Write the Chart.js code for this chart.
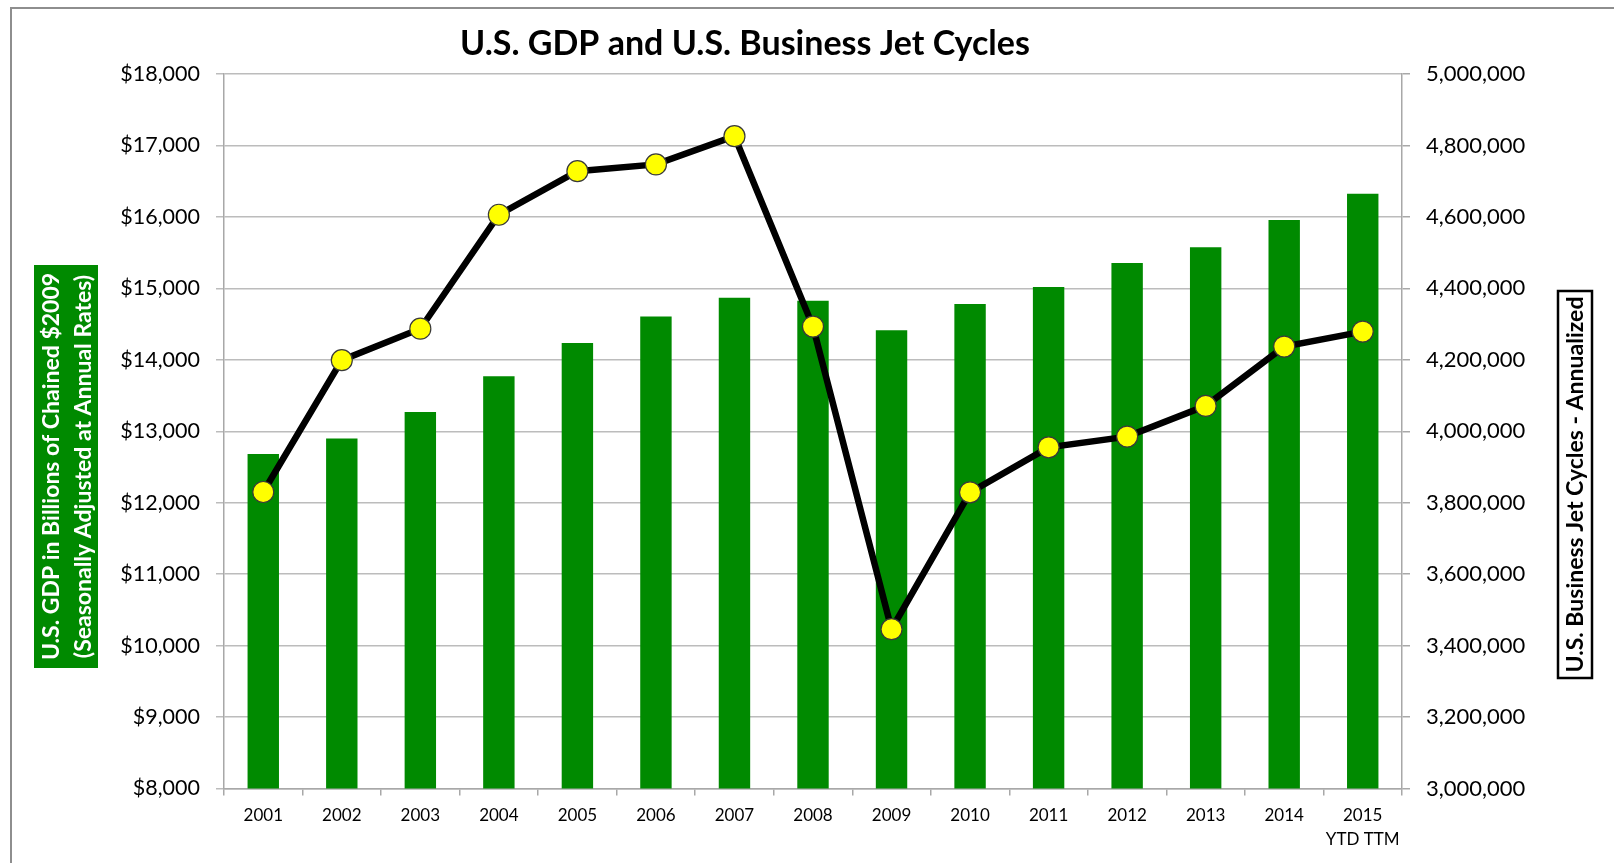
<!DOCTYPE html>
<html>
<head>
<meta charset="utf-8">
<script src="https://cdn.jsdelivr.net/npm/chart.js@4/dist/chart.umd.min.js"></script>
<style>
  html, body { margin: 0; padding: 0; background: #ffffff; }
  #wrap { width: 1614px; height: 863px; position: relative; }
</style>
</head>
<body>
<div id="wrap"><canvas id="c" width="1614" height="863"></canvas></div>
<script>
const years = ['2001','2002','2003','2004','2005','2006','2007','2008','2009','2010','2011','2012','2013','2014',['2015','YTD TTM']];
const gdpBillions = [12680, 12900, 13270, 13770, 14235, 14605, 14870, 14825, 14415, 14780, 15020, 15355, 15575, 15957, 16325];
const jetCycles = [3830000, 4199000, 4287000, 4606000, 4728000, 4747000, 4826000, 4293000, 3446000, 3829000, 3955000, 3985000, 4071000, 4237000, 4279000];
const chartTitle = 'U.S. GDP and U.S. Business Jet Cycles';
const leftTitle = ['U.S. GDP in Billions of Chained $2009', '(Seasonally Adjusted at Annual Rates)'];
const rightTitle = 'U.S. Business Jet Cycles - Annualized';

const FONT = 'Lato, "Open Sans", sans-serif';
const gridColor = '#bcbcbc';
const axisColor = '#a8a8a8';

const decor = {
  id: 'decor',
  afterDraw(chart) {
    const ctx = chart.ctx;
    ctx.save();
    // outer frame
    ctx.strokeStyle = '#8e8e8e';
    ctx.lineWidth = 2;
    ctx.beginPath();
    ctx.moveTo(11, 863);
    ctx.lineTo(11, 8);
    ctx.lineTo(1614, 8);
    ctx.stroke();
    // title
    ctx.fillStyle = '#000';
    ctx.font = 'bold 34px ' + FONT;
    ctx.textAlign = 'center';
    ctx.textBaseline = 'middle';
    ctx.fillText(chartTitle, 745, 44);
    // left axis title box
    ctx.fillStyle = '#008a00';
    ctx.fillRect(34, 265, 64, 403);
    ctx.save();
    ctx.translate(66, 466.5);
    ctx.rotate(-Math.PI / 2);
    ctx.fillStyle = '#ffffff';
    ctx.font = 'bold 23px ' + FONT;
    ctx.textAlign = 'center';
    ctx.textBaseline = 'middle';
    ctx.fillText(leftTitle[0], 0, -14);
    ctx.fillText(leftTitle[1], 0, 18);
    ctx.restore();
    // right axis title box
    ctx.fillStyle = '#ffffff';
    ctx.fillRect(1558, 291, 34, 387);
    ctx.strokeStyle = '#000';
    ctx.lineWidth = 2.5;
    ctx.strokeRect(1558, 291, 34, 387);
    ctx.save();
    ctx.translate(1575, 484.5);
    ctx.rotate(-Math.PI / 2);
    ctx.fillStyle = '#000';
    ctx.font = 'bold 23px ' + FONT;
    ctx.textAlign = 'center';
    ctx.textBaseline = 'middle';
    ctx.fillText(rightTitle, 0, 1);
    ctx.restore();
    ctx.restore();
  }
};

new Chart(document.getElementById('c'), {
  data: {
    labels: years,
    datasets: [
      {
        type: 'line',
        label: 'Business Jet Cycles',
        data: jetCycles,
        yAxisID: 'y1',
        borderColor: '#000000',
        borderWidth: 6.5,
        pointRadius: 10.5,
        pointBackgroundColor: '#ffff00',
        pointBorderColor: '#3a3a3a',
        pointBorderWidth: 1.2,
        tension: 0,
        order: 0
      },
      {
        type: 'bar',
        label: 'GDP',
        data: gdpBillions,
        yAxisID: 'y',
        backgroundColor: '#008a00',
        borderWidth: 0,
        barPercentage: 0.4,
        categoryPercentage: 1,
        order: 1
      }
    ]
  },
  options: {
    responsive: false,
    animation: false,
    devicePixelRatio: 1,
    layout: { padding: { top: 74, left: 0, right: 0, bottom: 0 } },
    plugins: { legend: { display: false }, title: { display: false }, tooltip: { enabled: false } },
    scales: {
      x: {
        grid: { offset: true, drawOnChartArea: false, tickLength: 7, color: axisColor, lineWidth: 1.5 },
        border: { color: axisColor, width: 1.5 },
        ticks: { color: '#000', font: { family: FONT, size: 17, lineHeight: 1.4 }, padding: 8, maxRotation: 0, autoSkip: false },
        afterFit(s) { s.height = 74.5; }
      },
      y: {
        position: 'left',
        min: 8000, max: 18000,
        grid: { color: gridColor, lineWidth: 1.5, tickLength: 8 },
        border: { color: axisColor, width: 1.5 },
        ticks: {
          stepSize: 1000, padding: 16, color: '#000',
          font: { family: FONT, size: 21.5 },
          callback: v => '$' + Number(v).toLocaleString('en-US')
        },
        afterFit(s) { s.width = 224; }
      },
      y1: {
        position: 'right',
        min: 3000000, max: 5000000,
        grid: { drawOnChartArea: false, color: axisColor, lineWidth: 1.5, tickLength: 8 },
        border: { color: axisColor, width: 1.5 },
        ticks: {
          stepSize: 200000, padding: 16, color: '#000',
          font: { family: FONT, size: 22 },
          callback: v => Number(v).toLocaleString('en-US')
        },
        afterFit(s) { s.width = 212; }
      }
    }
  },
  plugins: [decor]
});
</script>
</body>
</html>
